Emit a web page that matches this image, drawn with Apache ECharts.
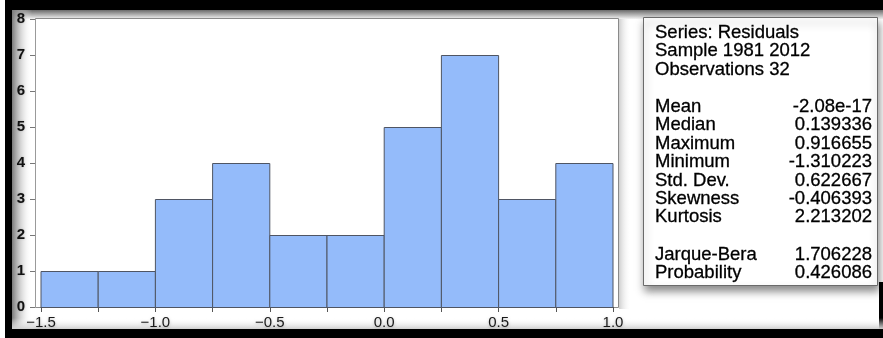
<!DOCTYPE html>
<html><head><meta charset="utf-8">
<script src="https://cdn.jsdelivr.net/npm/echarts@6/dist/echarts.min.js"></script>
<style>html,body{margin:0;padding:0;background:#fff}#c{width:883px;height:338px}</style>
</head><body><div id="c"></div>
<script>
// ---- data ----
const binStarts = [-1.5, -1.25, -1.0, -0.75, -0.5, -0.25, 0.0, 0.25, 0.5, 0.75];
const binWidth = 0.25;
const counts = [1, 1, 3, 4, 2, 2, 5, 7, 3, 4];
const xTickValues = [-1.5, -1.0, -0.5, 0.0, 0.5, 1.0];
const xTickLabels = ['\u22121.5', '\u22121.0', '\u22120.5', '0.0', '0.5', '1.0'];
const headerLines = ['Series: Residuals', 'Sample 1981 2012', 'Observations 32'];
const statNames = ['Mean', 'Median', 'Maximum', 'Minimum', 'Std. Dev.', 'Skewness', 'Kurtosis'];
const statValues = ['-2.08e-17', '0.139336', '0.916655', '-1.310223', '0.622667', '-0.406393', '2.213202'];
const testNames = ['Jarque-Bera', 'Probability'];
const testValues = ['1.706228', '0.426086'];

const FONT = 'Arial, "Liberation Sans", sans-serif';
const chart = echarts.init(document.getElementById('c'), null, {renderer: 'canvas'});

const gfx = [];
// outer black frame and shading
gfx.push({type: 'rect', z: -20, shape: {x: 5, y: 0, width: 878, height: 10}, style: {fill: '#000'}});
gfx.push({type: 'rect', z: -20, shape: {x: 5, y: 0, width: 7, height: 338}, style: {fill: '#000'}});
gfx.push({type: 'rect', z: -20, shape: {x: 5, y: 329, width: 878, height: 9}, style: {fill: '#000'}});
gfx.push({type: 'rect', z: -20, shape: {x: 879, y: 282, width: 4, height: 50}, style: {fill: '#000'}});
gfx.push({type: 'rect', z: -19, shape: {x: 12, y: 10, width: 871, height: 9},
  style: {fill: new echarts.graphic.LinearGradient(0, 0, 0, 1, [{offset: 0, color: '#6a6a6a'}, {offset: 1, color: '#f4f4f4'}])}});
gfx.push({type: 'rect', z: -19, shape: {x: 12, y: 10, width: 20, height: 319},
  style: {fill: new echarts.graphic.LinearGradient(0, 0, 1, 0, [{offset: 0, color: '#7a7a7a'}, {offset: 1, color: 'rgba(255,255,255,0)'}])}});
gfx.push({type: 'rect', z: -19, shape: {x: 12, y: 318, width: 871, height: 11},
  style: {fill: new echarts.graphic.LinearGradient(0, 0, 0, 1, [{offset: 0, color: 'rgba(255,255,255,0)'}, {offset: 1, color: '#cfcfcf'}])}});
gfx.push({type: 'rect', z: -18, shape: {x: 619, y: 19, width: 12, height: 290},
  style: {fill: new echarts.graphic.LinearGradient(0, 0, 1, 0, [{offset: 0, color: '#cfcfcf'}, {offset: 1, color: 'rgba(255,255,255,0)'}])}});
// plot frame
gfx.push({type: 'rect', z: -17, shape: {x: 35.5, y: 18.5, width: 583, height: 289}, style: {fill: '#fff', stroke: '#8a8a8a', lineWidth: 1}});

// stats box
gfx.push({type: 'rect', z: 50, shape: {x: 643.5, y: 17.5, width: 234, height: 268},
  style: {fill: '#fff', stroke: '#6a6a6a', lineWidth: 1, shadowBlur: 8, shadowOffsetY: 5, shadowOffsetX: 1, shadowColor: 'rgba(0,0,0,0.45)'}});
const TX = 655, VX = 872, FS = 18.5, LH = 18.4;
const txtStyle = (t, align) => ({text: t, font: FS + 'px ' + FONT, fill: '#000', stroke: '#000', lineWidth: 0.3, textVerticalAlign: 'middle', textAlign: align});
headerLines.forEach((t, i) => gfx.push({type: 'text', z: 51, x: TX, y: 33 + i * LH, style: txtStyle(t, 'left')}));
statNames.forEach((t, i) => {
  gfx.push({type: 'text', z: 51, x: TX, y: 107 + i * LH, style: txtStyle(t, 'left')});
  gfx.push({type: 'text', z: 51, x: VX, y: 107 + i * LH, style: txtStyle(statValues[i], 'right')});
});
testNames.forEach((t, i) => {
  gfx.push({type: 'text', z: 51, x: TX, y: 254.5 + i * LH, style: txtStyle(t, 'left')});
  gfx.push({type: 'text', z: 51, x: VX, y: 254.5 + i * LH, style: txtStyle(testValues[i], 'right')});
});

const histData = binStarts.map((s, i) => [s, s + binWidth, counts[i]]);

chart.setOption({
  animation: false,
  backgroundColor: '#fff',
  graphic: gfx,
  grid: {left: 41, top: 19, width: 572, height: 288, show: false},
  xAxis: {
    type: 'value', min: -1.5, max: 1.0, interval: 0.25,
    axisLine: {show: true, onZero: false, lineStyle: {color: '#555', width: 1}},
    axisTick: {show: true, length: 5, lineStyle: {color: '#555'}},
    splitLine: {show: false},
    axisLabel: {
      margin: 8, fontSize: 15, fontFamily: FONT, color: '#1a1a1a',
      textShadowColor: 'rgba(0,0,0,0.25)', textShadowBlur: 3, textShadowOffsetY: 1,
      showMinLabel: true, showMaxLabel: true,
      formatter: v => {
        const k = xTickValues.findIndex(t => Math.abs(t - v) < 1e-9);
        return k >= 0 ? xTickLabels[k] : '';
      }
    }
  },
  yAxis: {
    type: 'value', min: 0, max: 8, interval: 1, offset: 6,
    axisLine: {show: true, onZero: false, lineStyle: {color: '#9a9a9a', width: 1}},
    axisTick: {show: true, length: 5, lineStyle: {color: '#777'}},
    splitLine: {show: false},
    axisLabel: {margin: 10, fontSize: 15, fontFamily: FONT, color: '#111', fontWeight: 'bold', align: 'right',
      textShadowColor: 'rgba(0,0,0,0.2)', textShadowBlur: 2}
  },
  series: [{
    type: 'custom',
    data: histData,
    encode: {x: [0, 1], y: 2},
    renderItem: (params, api) => {
      const p0 = api.coord([api.value(0), api.value(2)]);
      const p1 = api.coord([api.value(1), 0]);
      return {type: 'rect', shape: {x: p0[0], y: p0[1] + 0.5, width: p1[0] - p0[0], height: p1[1] - p0[1]},
        style: {fill: '#94bbfa', stroke: '#4f5563', lineWidth: 1}};
    }
  }]
});
</script></body></html>
